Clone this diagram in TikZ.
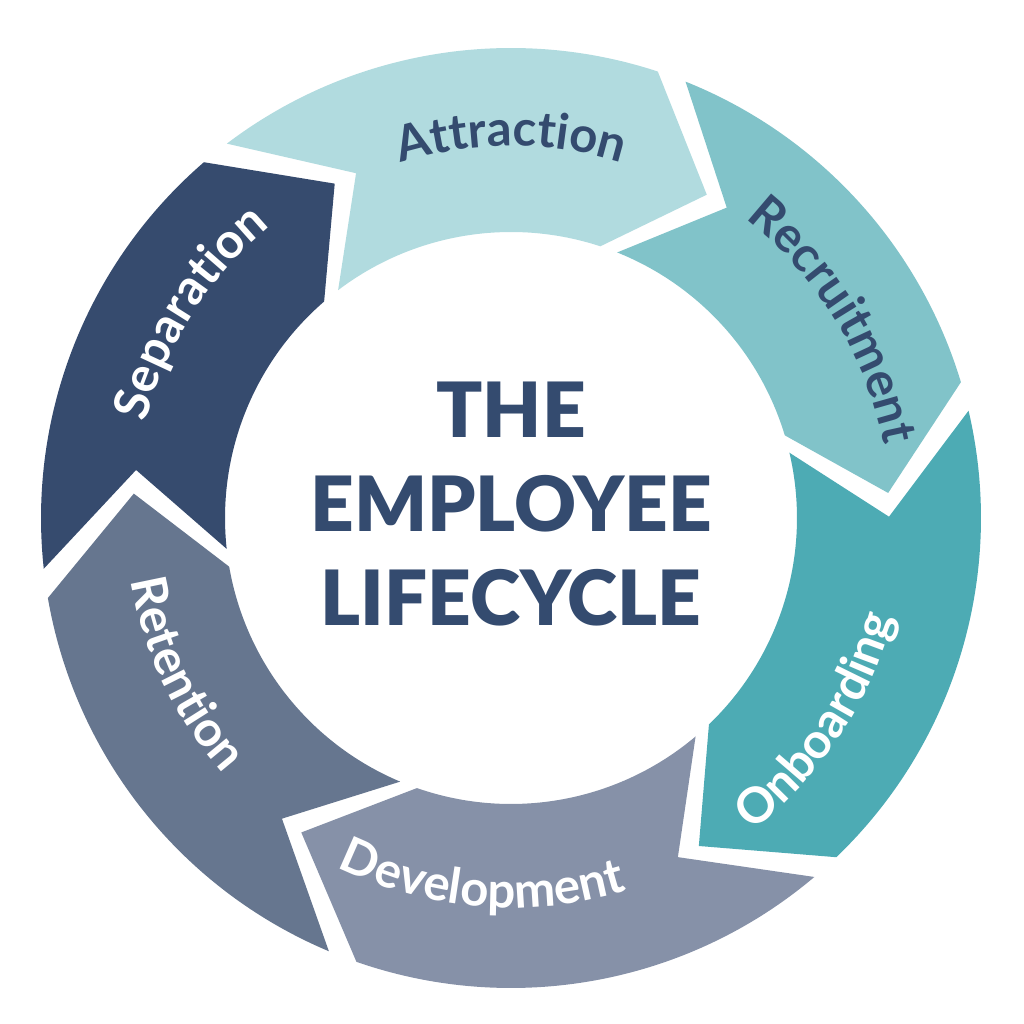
\documentclass[tikz,border=0pt]{standalone}
\usepackage{fontspec}
\setmainfont{Lato}
\newfontfamily\titlefont{Lato Black}
\usepackage{tikz}
\usetikzlibrary{decorations.text}

\definecolor{navy}{HTML}{344B6F}
\definecolor{attrcol}{HTML}{B1DBDF}
\definecolor{recrcol}{HTML}{81C3C9}
\definecolor{onbcol}{HTML}{4DABB4}
\definecolor{devcol}{HTML}{8691A8}
\definecolor{retcol}{HTML}{66768F}
\definecolor{sepcol}{HTML}{364B6E}

\newcommand{\phasefont}{\fontsize{14}{16}\selectfont\bfseries}

\begin{document}
\begin{tikzpicture}
  \tikzset {
    title/.style={
      anchor=base,
      text=navy,
      font=\fontsize{21.7}{26}\selectfont\titlefont
    },
    phasetext/.style={
      decorate,
      decoration={text along path, text align=center, text color=#1}
    }
  }
  \useasboundingbox (0,0) rectangle (10.24,10.24);

  \begin{scope}[shift={(5.11,5.06)}]
  % ring of arrows, clockwise
  \fill[attrcol] (127.2:4.70) arc[start angle=127.2, end angle=71.8, radius=4.70]
    -- (58.8:3.78) -- (71.8:2.86) arc[start angle=71.8, end angle=127.2, radius=2.86]
    -- (114.2:3.78) -- cycle;
  \fill[recrcol] (68.2:4.70) arc[start angle=68.2, end angle=16.8, radius=4.70]
    -- (3.8:3.78) -- (16.8:2.86) arc[start angle=16.8, end angle=68.2, radius=2.86]
    -- (55.2:3.78) -- cycle;
  \fill[onbcol] (13.2:4.70) arc[start angle=13.2, end angle=-46.2, radius=4.70]
    -- (-60.2:3.78) -- (-46.2:2.86) arc[start angle=-46.2, end angle=13.2, radius=2.86]
    -- (0.2:3.78) -- cycle;
  \fill[devcol] (-49.8:4.70) arc[start angle=-49.8, end angle=-109.2, radius=4.70]
    -- (-123.7:3.78) -- (-109.2:2.86) arc[start angle=-109.2, end angle=-49.8, radius=2.86]
    -- (-63.8:3.78) -- cycle;
  \fill[retcol] (-112.8:4.70) arc[start angle=-112.8, end angle=-170.2, radius=4.70]
    -- (-183.7:3.78) -- (-170.2:2.86) arc[start angle=-170.2, end angle=-112.8, radius=2.86]
    -- (-127.3:3.78) -- cycle;
  \fill[sepcol] (186.2:4.70) arc[start angle=186.2, end angle=130.8, radius=4.70]
    -- (117.8:3.78) -- (130.8:2.86) arc[start angle=130.8, end angle=186.2, radius=2.86]
    -- (172.7:3.78) -- cycle;

  % phase names
  \path[phasetext=navy, decoration={text={|\phasefont|Attraction}}]
    (120:3.72) arc[start angle=120, end angle=60, radius=3.72];
  \path[phasetext=navy, decoration={text={|\phasefont|Recruitment}}]
    (61.5:3.80) arc[start angle=61.5, end angle=1.5, radius=3.80];
  \path[phasetext=white, decoration={text={|\phasefont|Onboarding}}]
    (-63.5:3.95) arc[start angle=-63.5, end angle=-3.5, radius=3.95];
  \path[phasetext=white, decoration={text={|\phasefont|Development}}]
    (-124.6:3.90) arc[start angle=-124.6, end angle=-64.6, radius=3.90];
  \path[phasetext=white, decoration={text={|\phasefont|Retention}}]
    (175.5:3.85) arc[start angle=175.5, end angle=235.5, radius=3.85];
  \path[phasetext=white, decoration={text={|\phasefont|Separation}}]
    (177.4:3.78) arc[start angle=177.4, end angle=117.4, radius=3.78];

  \node[title](the) at (0,0.80) {THE};
  \node[title](employee) at (0,-0.14) {EMPLOYEE};
  \node[title](lifecycle) at (0,-1.07) {LIFECYCLE};
  \end{scope}

\end{tikzpicture}
\end{document}
